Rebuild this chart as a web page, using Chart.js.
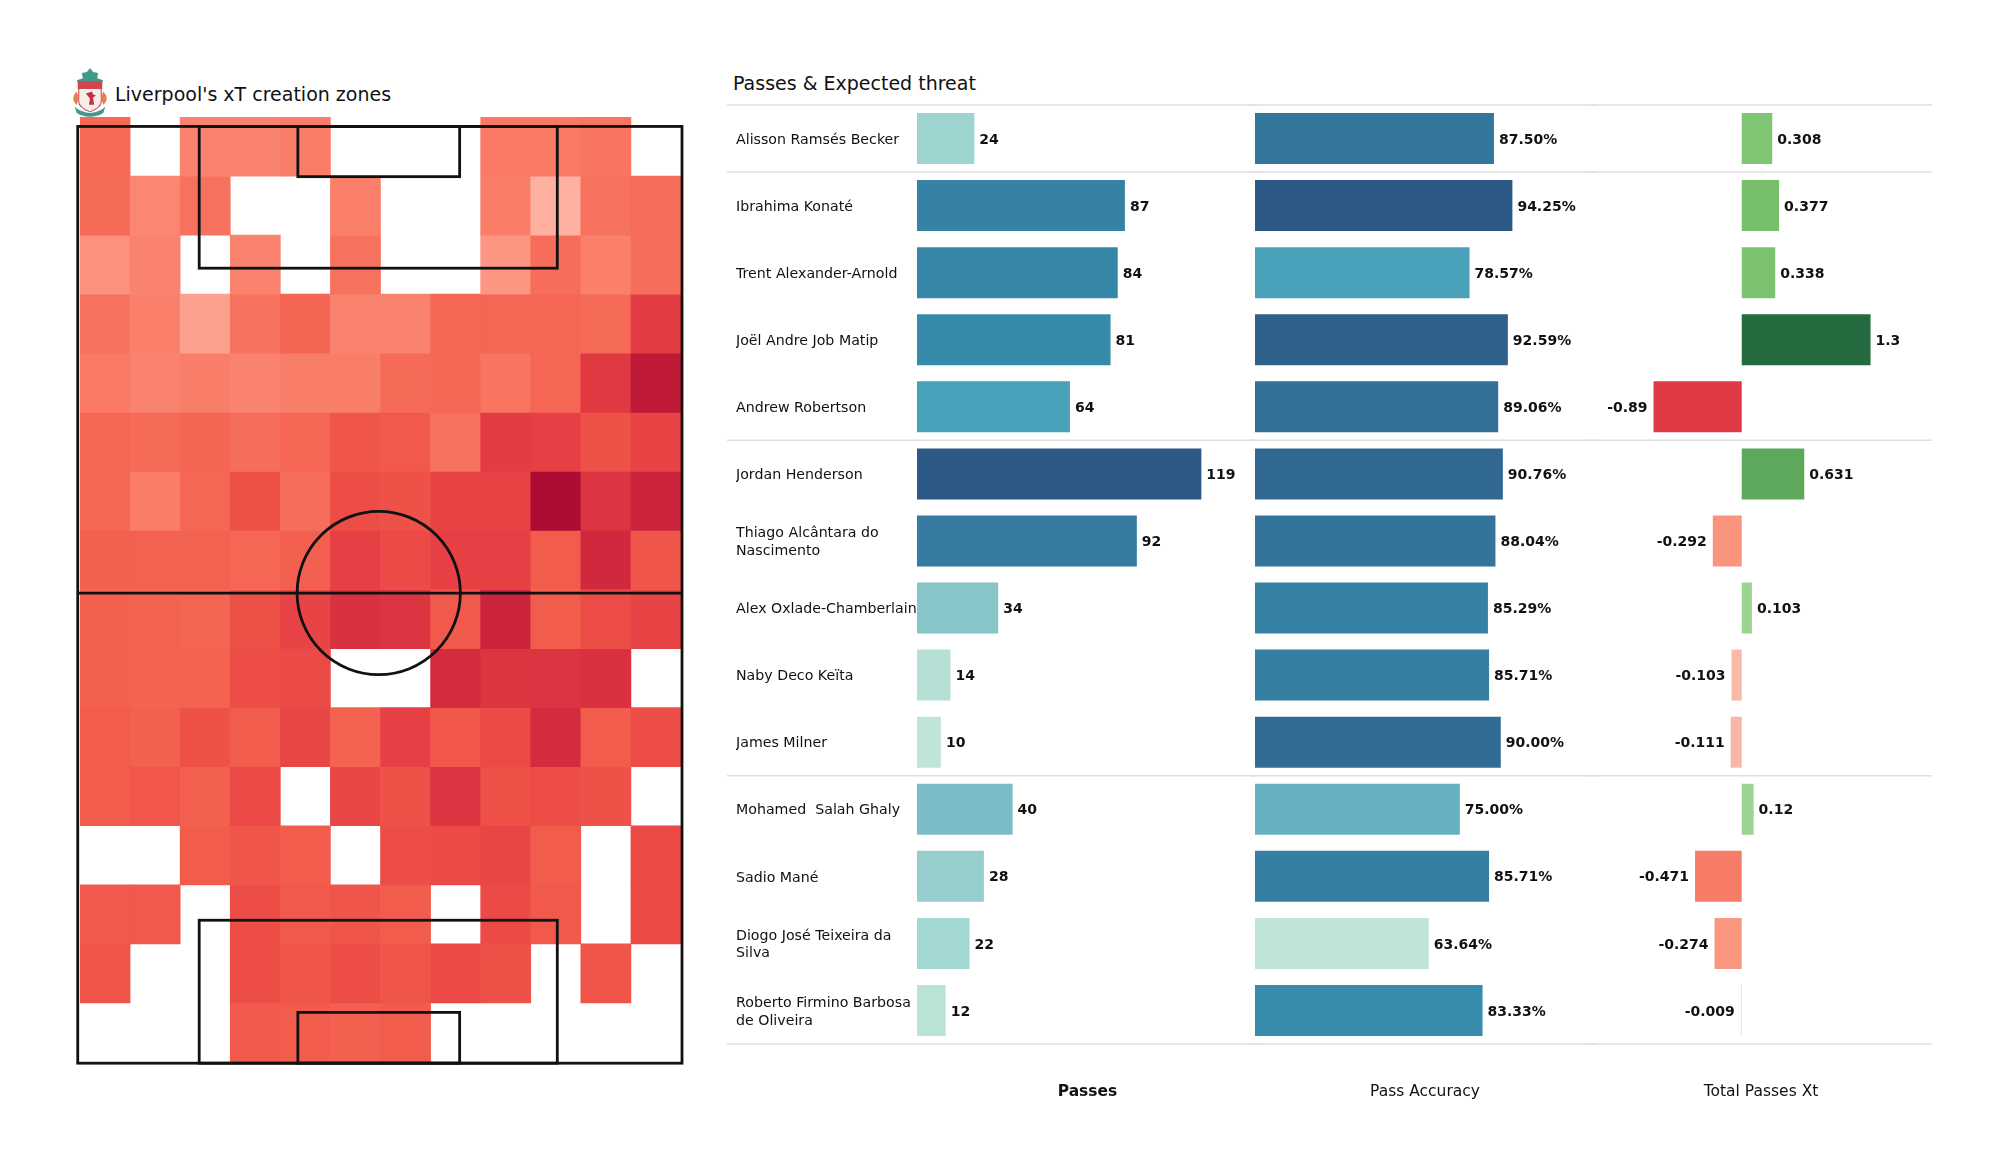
<!DOCTYPE html>
<html>
<head>
<meta charset="utf-8">
<title>Liverpool xT</title>
<script src="https://cdn.jsdelivr.net/npm/chart.js@4"></script>
<style>
	body { margin: 0; background: #fff; font-family: "DejaVu Sans", sans-serif; color: #111; }
	canvas { position: absolute; }
	.title { position: absolute; font-size: 19px; line-height: 24px; white-space: nowrap; }
	#crest { position: absolute; left: 71px; top: 67px; width: 38px; height: 50px; }
</style>
</head>
<body>
<svg id="crest" viewBox="0 0 36 49">
	<path d="M18 1l3 4 5 1-1 5 6 2-2 4H7l-2-4 6-2-1-5 5-1z" fill="#3f9a8c"/>
	<rect x="6" y="14" width="24" height="8" fill="#d9434c"/>
	<path d="M7 21h22v13c0 5-6 8-11 10-5-2-11-5-11-10z" fill="#f4efe9" stroke="#c9495a"/>
	<path d="M14 26l6-2 1 3 3 1-3 2 1 7h-5l1-6z" fill="#c9303f"/>
	<path d="M5 24c-5 5-4 10 0 13 2-4 2-9 0-13zM31 24c5 5 4 10 0 13-2-4-2-9 0-13z" fill="#e4824f"/>
	<path d="M3 39c9 8 21 8 30 0l-2 6c-8 5-18 5-26 0z" fill="#3f9a8c"/>
</svg>
<div class="title" style="left:115px;top:82px">Liverpool's xT creation zones</div>
<div class="title" style="left:733px;top:71px">Passes &amp; Expected threat</div>
<canvas id="heat" width="640" height="970" style="left:60px;top:105px"></canvas>
<canvas id="passes" width="531" height="1006" style="left:727px;top:100px"></canvas>
<canvas id="accuracy" width="345" height="1006" style="left:1250px;top:100px"></canvas>
<canvas id="threat" width="342" height="1006" style="left:1590px;top:100px"></canvas>
<script>
// heatmap, 16 rows x 12 columns, top row first, null = empty zone
const row0  = [45, null, 30, 30, 34, null, null, null, 36, 36, 38, null];
const row1  = [44, 28, 40, null, null, 32, null, null, 34, 8, 40, 42];
const row2  = [22, 30, null, 30, null, 40, null, null, 20, 42, 32, 42];
const row3  = [40, 32, 15, 40, 47, 30, 30, 46, 46, 46, 44, 70];
const row4  = [36, 30, 33, 30, 33, 33, 44, 46, 38, 46, 72, 92];
const row5  = [46, 44, 47, 42, 46, 56, 54, 40, 70, 68, 58, 66];
const row6  = [46, 34, 46, 58, 42, 60, 58, 66, 66, 100, 76, 86];
const row7  = [50, 49, 49, 46, 50, 68, 62, 68, 68, 52, 84, 56];
const row8  = [50, 48, 47, 58, 66, 78, 76, 54, 86, 52, 60, 66];
const row9  = [50, 48, 48, 60, 62, null, null, 82, 74, 76, 78, null];
const row10 = [52, 50, 58, 52, 64, 48, 68, 55, 62, 82, 52, 60];
const row11 = [52, 55, 50, 62, null, 64, 58, 76, 58, 60, 58, null];
const row12 = [null, null, 52, 56, 52, null, 60, 62, 64, 52, null, 62];
const row13 = [54, 54, null, 60, 54, 56, 52, null, 62, 54, null, 62];
const row14 = [56, null, null, 60, 56, 60, 56, 62, 58, null, 56, null];
const row15 = [null, null, null, 54, 52, 50, 52, null, null, null, null, null];
const heatRows = [row0, row1, row2, row3, row4, row5, row6, row7, row8, row9, row10, row11, row12, row13, row14, row15];
const heatCols = ['1', '2', '3', '4', '5', '6', '7', '8', '9', '10', '11', '12'];

// player table
const players = ['Alisson Ramsés Becker', 'Ibrahima Konaté', 'Trent Alexander-Arnold', 'Joël Andre Job Matip', 'Andrew Robertson',
	'Jordan Henderson', ['Thiago Alcântara do', 'Nascimento'], 'Alex Oxlade-Chamberlain', 'Naby Deco Keïta', 'James Milner',
	'Mohamed  Salah Ghaly', 'Sadio Mané', ['Diogo José Teixeira da', 'Silva'], ['Roberto Firmino Barbosa', 'de Oliveira']];
const passes = [24, 87, 84, 81, 64, 119, 92, 34, 14, 10, 40, 28, 22, 12];
const accuracy = [87.50, 94.25, 78.57, 92.59, 89.06, 90.76, 88.04, 85.29, 85.71, 90.00, 75.00, 85.71, 63.64, 83.33];
const threat = [0.308, 0.377, 0.338, 1.3, -0.89, 0.631, -0.292, 0.103, -0.103, -0.111, 0.12, -0.471, -0.274, -0.009];
const groupEnds = [0, 4, 9];

// colour ramps: [position, colour]
const redRamp = [[0, '#ffc2b6'], [22, '#fc917d'], [35, '#f97b66'], [46, '#f56754'], [56, '#ef5549'], [68, '#e63f44'], [82, '#d42b3e'], [100, '#ae0d33']];
const blueRamp = [[0, '#bfe5d9'], [.13, '#9ed4cf'], [.275, '#7bbcc6'], [.37, '#66b1c1'], [.49, '#48a2b9'], [.64, '#378dab'], [.78, '#33769c'], [.86, '#326c94'], [1, '#2c5985']];
const posRamp = [[0, '#b5e0a8'], [.103, '#9cd592'], [.308, '#7fc574'], [.377, '#78bf6c'], [.631, '#5ea85b'], [1.3, '#246b3f']];
const negRamp = [[0, '#fbd5ca'], [.103, '#f9b8a8'], [.28, '#fb9680'], [.471, '#f67c67'], [.89, '#e03a44']];

function hex(c) { return [1, 3, 5].map(i => parseInt(c.substr(i, 2), 16)); }
function shade(ramp, v) {
	for (let i = 1; i < ramp.length; i++) {
		if (v <= ramp[i][0]) {
			const t = (v - ramp[i - 1][0]) / (ramp[i][0] - ramp[i - 1][0]);
			const a = hex(ramp[i - 1][1]), b = hex(ramp[i][1]);
			return 'rgb(' + a.map((x, k) => Math.round(x + (b[k] - x) * t)).join(',') + ')';
		}
	}
	return ramp[ramp.length - 1][1];
}
function blues(list) {
	const lo = Math.min(...list), hi = Math.max(...list);
	return list.map(v => shade(blueRamp, (v - lo) / (hi - lo)));
}

Chart.defaults.font.family = '"DejaVu Sans", sans-serif';
Chart.defaults.font.size = 14;
Chart.defaults.color = '#111';
Chart.defaults.animation = false;
Chart.defaults.responsive = false;
Chart.defaults.plugins.legend.display = false;
Chart.defaults.plugins.tooltip.enabled = false;

// pitch markings, in heatmap units (column edges, row edges)
const pitchBoxes = [
	[-0.045, 0.16, 12.02, 16.02],
	[2.38, 0.16, 9.53, 2.56],
	[4.35, 0.16, 7.58, 1.01],
	[2.38, 13.6, 9.53, 16.02],
	[4.35, 15.16, 7.58, 16.02]
];
const halfway = 8.06, circleCol = 5.965, circleR = 1.63;

const pitchPlugin = {
	id: 'pitch',
	afterDatasetsDraw(chart) {
		const c = chart.ctx, ys = chart.scales.y;
		// category scale: index i is the band centre, so edge e sits at e - 0.5
		const colX = e => chart.scales.x.getPixelForValue(e - 0.5);
		c.save();
		c.strokeStyle = '#111';
		c.lineWidth = 2.8;
		pitchBoxes.forEach(b => {
			const x0 = colX(b[0]), y0 = ys.getPixelForValue(b[1]);
			c.strokeRect(x0, y0, colX(b[2]) - x0, ys.getPixelForValue(b[3]) - y0);
		});
		const yMid = ys.getPixelForValue(halfway);
		c.beginPath();
		c.moveTo(colX(pitchBoxes[0][0]), yMid);
		c.lineTo(colX(pitchBoxes[0][2]), yMid);
		c.stroke();
		c.beginPath();
		c.arc(colX(circleCol), yMid, colX(circleR) - colX(0), 0, Math.PI * 2);
		c.stroke();
		c.restore();
	}
};

new Chart(document.getElementById('heat'), {
	type: 'bar',
	plugins: [pitchPlugin],
	data: {
		labels: heatCols,
		datasets: heatRows.map((row, r) => ({
			data: row.map(v => v === null ? null : [r, r + 1]),
			backgroundColor: row.map(v => v === null ? 'transparent' : shade(redRamp, v)),
			categoryPercentage: 1,
			barPercentage: 1,
			grouped: false
		}))
	},
	options: {
		layout: { padding: { left: 20, right: 19, top: 12, bottom: 13 } },
		scales: {
			x: { display: false },
			y: { display: false, reverse: true, min: 0, max: 16 }
		}
	}
});

// separators and value labels for the three table columns
const tablePlugin = {
	id: 'table',
	beforeDatasetsDraw(chart) {
		const c = chart.ctx, ys = chart.scales.y, step = ys.height / players.length;
		const lines = [-1].concat(groupEnds, [players.length - 1]);
		c.save();
		c.strokeStyle = '#dfdfdf';
		c.lineWidth = 1.5;
		lines.forEach(i => {
			const y = ys.top + (i + 1) * step;
			c.beginPath();
			c.moveTo(0, y);
			c.lineTo(chart.width, y);
			c.stroke();
		});
		c.restore();
	},
	afterDatasetsDraw(chart, args, opts) {
		const c = chart.ctx, values = chart.data.datasets[0].data;
		c.save();
		c.font = 'bold 14px "DejaVu Sans"';
		c.fillStyle = '#111';
		c.textBaseline = 'middle';
		chart.getDatasetMeta(0).data.forEach((bar, i) => {
			c.textAlign = values[i] < 0 ? 'right' : 'left';
			c.fillText(opts.format(values[i]), bar.x + (values[i] < 0 ? -6 : 5), bar.y + 1.5);
		});
		c.restore();
	}
};

const FORMATS = {
	passes: v => String(v),
	accuracy: v => v.toFixed(2) + '%',
	threat: v => String(v)
};

function tableChart(id, values, colors, title, min, max, bold, padLeft, showNames) {
	return new Chart(document.getElementById(id), {
		type: 'bar',
		plugins: [tablePlugin],
		data: {
			labels: players,
			datasets: [{ data: values, backgroundColor: colors, categoryPercentage: 1, barPercentage: 0.76 }]
		},
		options: {
			indexAxis: 'y',
			layout: { padding: { left: padLeft, right: 0, top: 5, bottom: 0 } },
			plugins: { table: { format: FORMATS[id] } },
			scales: {
				x: {
					min: min,
					max: max,
					grid: { display: false },
					border: { display: false },
					ticks: { display: false },
					title: { display: true, text: title, font: { size: 15.5, weight: bold ? 'bold' : 'normal' }, padding: { top: 0, bottom: 5 } },
					afterFit(scale) { scale.height = 62; }
				},
				y: showNames ? {
					grid: { display: false },
					border: { display: false },
					ticks: { crossAlign: 'far', padding: 0, autoSkip: false, labelOffset: 1.5, font: { size: 14.2, lineHeight: 1.25 } },
					afterFit(scale) {
						scale.width = 181;
						scale.paddingTop = 0;
						scale.paddingBottom = 0;
					}
				} : { display: false }
			}
		}
	});
}

tableChart('passes', passes, blues(passes), 'Passes', 0, 142.7, true, 9, true);
tableChart('accuracy', accuracy, blues(accuracy), 'Pass Accuracy', 0, 124.5, false, 5, false);
tableChart('threat', threat, threat.map(v => v < 0 ? shade(negRamp, -v) : shade(posRamp, v)), 'Total Passes Xt', -1.531, 1.92, false, 0, false);
</script>
</body>
</html>
